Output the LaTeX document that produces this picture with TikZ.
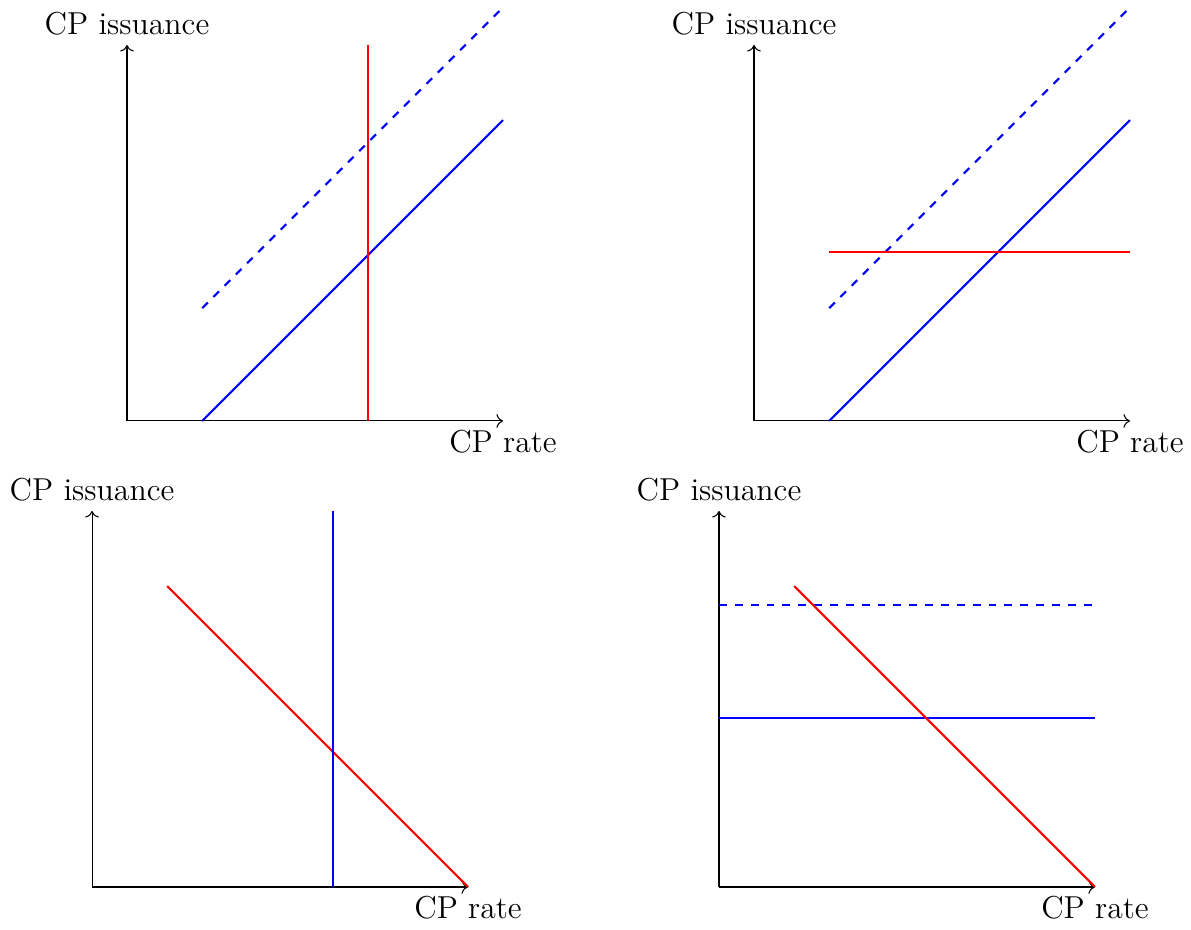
\documentclass[tikz,border=0pt]{standalone}
\usepackage{xcolor}
\usepackage{tikz}
\usetikzlibrary{arrows.meta,positioning}

\begin{document}
\begin{tikzpicture}[font=\large,axis/.style={->},supply/.style={thick,blue},demand/.style={thick,red}]
\useasboundingbox (-1.689,-6.769) rectangle (14.149,5.598);
% four panels, same axes
\foreach \p/\sx/\sy in {a/0/0,b/8.338/0,c/-0.465/-6.197,d/7.872/-6.197}{
  \begin{scope}[shift={(\sx,\sy)}]
  \coordinate (o\p) at (0,0);
  \coordinate (xe\p) at (5,0);
  \coordinate (ye\p) at (0,5);
  \draw[axis] (o\p) -- (xe\p) node[below] (x\p) {CP rate};
  \draw[axis] (o\p) -- (ye\p) node[above] (y\p) {CP issuance};
  \end{scope}
}
% panel a
\begin{scope}[shift={(oa)}]
\draw[supply] (1,0) -- (5,4);
\draw[supply,dashed] (1,1.5) -- (5,5.5);
\draw[demand] (3.2,0) -- (3.2,5);
\end{scope}
% panel b
\begin{scope}[shift={(ob)}]
\draw[supply] (1,0) -- (5,4);
\draw[supply,dashed] (1,1.5) -- (5,5.5);
\draw[demand] (1,2.25) -- (5,2.25);
\end{scope}
% panel c
\begin{scope}[shift={(oc)}]
\draw[demand] (1,4) -- (5,0);
\draw[supply] (3.2,0) -- (3.2,5);
\end{scope}
% panel d
\begin{scope}[shift={(od)}]
\draw[supply,dashed] (0,3.75) -- (5,3.75);
\draw[supply] (0,2.25) -- (5,2.25);
\draw[demand] (1,4) -- (5,0);
\end{scope}
\end{tikzpicture}
\end{document}
